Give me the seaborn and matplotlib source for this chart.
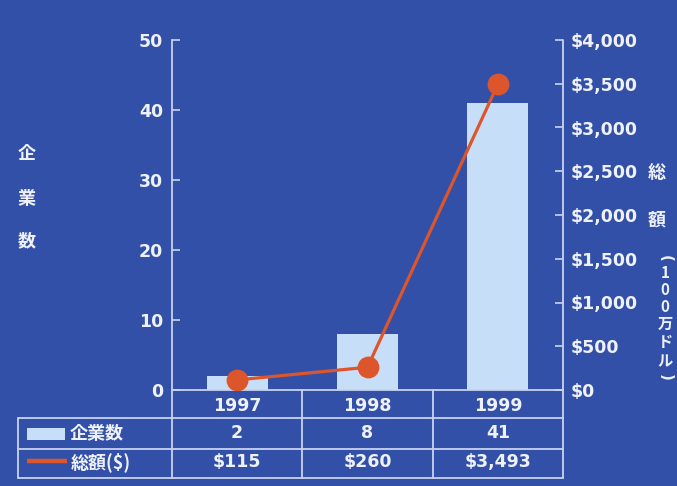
import matplotlib
matplotlib.use('Agg')
import matplotlib.pyplot as plt
from matplotlib.ticker import FuncFormatter, MultipleLocator
import seaborn as sns

years = ['1997', '1998', '1999']
companies = [2, 8, 41]
totals = [115, 260, 3493]
company_labels = ['2', '8', '41']
total_labels = ['$115', '$260', '$3,493']

bg = '#3350a8'
ink = '#eef1f8'
rule = '#c9d3ee'
bar_col = '#c6def7'
line_col = '#dc552b'

sns.set_style('ticks')
plt.rcParams['font.family'] = ['DejaVu Sans', 'Noto Sans CJK JP']
plt.rcParams['font.weight'] = 'bold'

W, H = 677, 486
fig = plt.figure(figsize=(W / 100, H / 100), dpi=100, facecolor=bg)
ax = fig.add_axes([172 / W, 1 - 390 / H, 391 / W, 350 / H])
ax.set_facecolor('none')

sns.barplot(x=years, y=companies, ax=ax, color=bar_col, saturation=1,
            width=0.47, linewidth=0, edgecolor=bar_col)
ax.set_xlim(-0.5, 2.5)
ax.set_ylim(0, 50)
ax.yaxis.set_major_locator(MultipleLocator(10))
ax.set_xlabel('')
ax.set_ylabel('')

ax2 = ax.twinx()
sns.pointplot(x=years, y=totals, ax=ax2, color=line_col, markers='o',
              markersize=14, linewidth=2.3)
ax2.set_xlim(-0.5, 2.5)
ax2.set_ylim(0, 4000)
ax2.yaxis.set_major_locator(MultipleLocator(500))
ax2.yaxis.set_major_formatter(FuncFormatter(lambda v, p: f'${v:,.0f}'))
ax2.set_ylabel('')

# axes styling
for a in (ax, ax2):
    for s in a.spines.values():
        s.set_visible(False)
    a.tick_params(axis='y', direction='in', length=6, width=1.2, color=rule,
                  labelcolor=ink, labelsize=12.5)
ax.spines['left'].set_visible(True)
ax.spines['left'].set_color(rule)
ax.spines['left'].set_linewidth(1.3)
ax.tick_params(axis='y', pad=6.5)
ax2.tick_params(axis='y', pad=5.5)
ax.tick_params(axis='x', length=0, labelcolor=ink, labelsize=12.5, pad=5)

# table under the plot (axes fraction units)
tr = ax.transAxes
kw = dict(transform=tr, clip_on=False, color=rule, lw=1.3)
ax.plot([0, 1], [0, 0], **kw)
for y in (-0.08, -0.169, -0.251):
    ax.plot([-0.394, 1], [y, y], **kw)
ax.plot([-0.394, -0.394], [-0.08, -0.251], **kw)
for x in (0, 1 / 3, 2 / 3):
    ax.plot([x, x], [0, -0.251], **kw)
ax.plot([1, 1], [1, -0.251], **kw)

for i in range(len(years)):
    ax.text(i, -0.123, company_labels[i], transform=ax.get_xaxis_transform(),
            ha='center', va='center', color=ink, fontsize=12.5)
    ax.text(i, -0.206, total_labels[i], transform=ax.get_xaxis_transform(),
            ha='center', va='center', color=ink, fontsize=12.5)

ax.add_patch(plt.Rectangle((-0.371, -0.143), 0.097, 0.034, transform=tr,
                           clip_on=False, color=bar_col, lw=0))
ax.plot([-0.371, -0.269], [-0.203, -0.203], transform=tr, clip_on=False,
        color=line_col, lw=3.2, solid_capstyle='butt')
jp = ['Noto Sans CJK JP', 'DejaVu Sans']
ax.text(-0.262, -0.123, '企業数', transform=tr, ha='left', va='center',
        color=ink, fontsize=13, family=jp)
ax.text(-0.258, -0.206, '総額($)', transform=tr, ha='left', va='center',
        color=ink, fontsize=13, family=jp)

# axis titles, stacked vertically
for ch, y in zip('企業数', (153, 199, 241)):
    fig.text(27 / W, 1 - y / H, ch, ha='center', va='center', color=ink,
             fontsize=13, family=jp)
for ch, y in zip('総額', (173, 220)):
    fig.text(657 / W, 1 - y / H, ch, ha='center', va='center', color=ink,
             fontsize=13, family=jp)
for ch, y in zip(['1', '0', '0', '万', 'ド', 'ル'],
                 (273, 290, 307, 324, 342, 361)):
    fig.text(665 / W, 1 - y / H, ch, ha='center', va='center', color=ink,
             fontsize=11, family=jp)
# vertical-writing brackets
fig.text(665 / W, 1 - 258 / H, '(', rotation=-90, ha='center',
         va='center', color=ink, fontsize=11)
fig.text(665 / W, 1 - 377 / H, ')', rotation=-90, ha='center',
         va='center', color=ink, fontsize=11)

fig.savefig('out.png', dpi=100, facecolor=bg)
